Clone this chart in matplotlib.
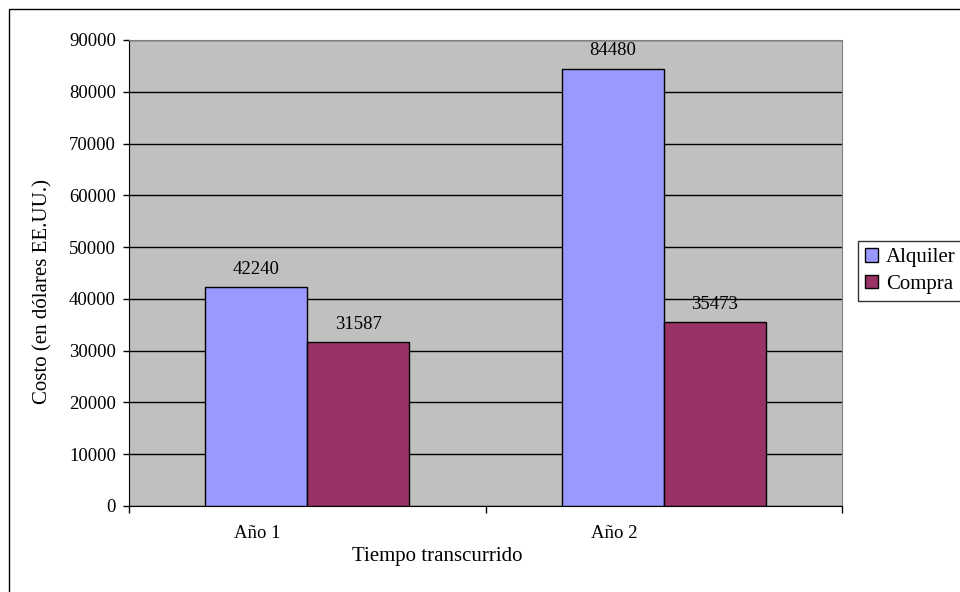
import matplotlib
matplotlib.use("Agg")
import matplotlib.pyplot as plt
import matplotlib.patches as mpatches
import numpy as np

plt.rcParams["font.family"] = ["Liberation Serif", "DejaVu Serif"]

categories = ["Año 1", "Año 2"]
alquiler = [42240, 84480]
compra = [31587, 35473]
series_names = ["Alquiler", "Compra"]
colours = ["#9999FF", "#993366"]

W, H = 960, 592
fig = plt.figure(figsize=(W / 100, H / 100), dpi=100)

# outer chart border (only top/left visible in the reference)
fig.patches.append(mpatches.Rectangle((9 / W, -0.1), 1.2, 1 - 9 / H + 0.1,
                                      transform=fig.transFigure, fill=False,
                                      edgecolor="black", linewidth=1))

ax = fig.add_axes([129 / W, 1 - 506 / H, (842 - 129) / W, (506 - 40) / H])
ax.set_facecolor("#C0C0C0")

x = np.arange(len(categories))
width = 1 / 3.5
bars_a = ax.bar(x - width / 2, alquiler, width, color=colours[0],
                edgecolor="black", linewidth=1, label=series_names[0], zorder=3)
bars_c = ax.bar(x + width / 2, compra, width, color=colours[1],
                edgecolor="black", linewidth=1, label=series_names[1], zorder=3)

for bars in (bars_a, bars_c):
    for b in bars:
        ax.annotate(f"{b.get_height():.0f}",
                    xy=(b.get_x() + b.get_width() / 2, b.get_height()),
                    xytext=(0, 7), textcoords="offset points",
                    ha="center", va="bottom", fontsize=13.5)

ax.set_xlim(-0.5, len(categories) - 0.5)
ax.set_ylim(0, 90000)
ax.set_yticks(range(0, 90001, 10000))
ax.yaxis.grid(True, color="black", linewidth=1, zorder=1)
ax.set_axisbelow(True)

# category labels sit left of the group centre, as in the reference
ax.set_xticks(x - 0.14)
ax.set_xticklabels(categories, fontsize=13.5)
ax.tick_params(axis="x", length=0, pad=14)
ax.set_xticks(np.arange(-0.5, len(categories)), minor=True)
ax.tick_params(axis="x", which="minor", length=5, direction="out", width=1)
ax.tick_params(axis="y", length=4.5, direction="out", width=1, labelsize=13.5, pad=5)

for s in ("left", "bottom"):
    ax.spines[s].set_color("black")
for s in ("top", "right"):
    ax.spines[s].set_color("#808080")

ax.set_xlabel("Tiempo transcurrido", fontsize=15)
ax.xaxis.set_label_coords((437 - 129) / (842 - 129), -(556 - 506) / (506 - 40))
ax.xaxis.label.set_va("center")
ax.set_ylabel("Costo (en dólares EE.UU.)", fontsize=15)
ax.yaxis.set_label_coords(-(129 - 43) / (842 - 129), (506 - 292) / (506 - 40))
ax.yaxis.label.set_va("center")

leg = fig.legend(handles=[bars_a, bars_c], labels=series_names,
                 loc="upper left", bbox_to_anchor=(858 / W, 1 - 241 / H),
                 fontsize=15, frameon=True, fancybox=False,
                 handlelength=0.6, handleheight=0.6, handletextpad=0.4,
                 borderpad=0.35, labelspacing=0.35, borderaxespad=0)
leg.get_frame().set_edgecolor("black")
leg.get_frame().set_linewidth(1)

fig.savefig("out.png", dpi=100)
